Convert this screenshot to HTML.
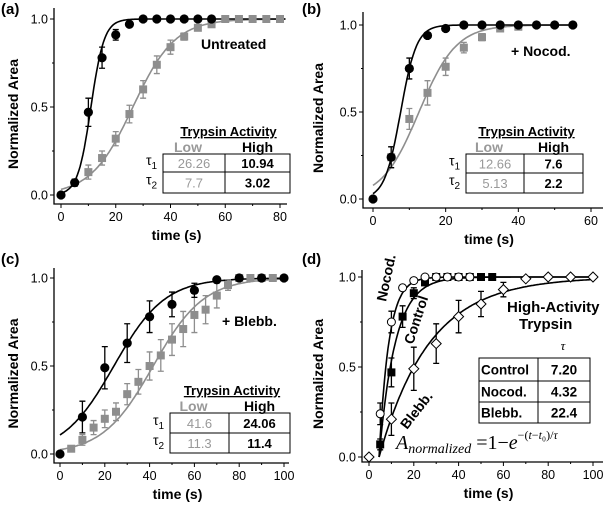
<!DOCTYPE html>
<html><head><meta charset="utf-8"><style>
body{margin:0;background:#fff}
svg{display:block;font-family:"Liberation Sans",Arial,sans-serif}
</style></head><body>
<svg id="fig" width="605" height="506" viewBox="0 0 605 506"></svg>
<script>
// ---- data ----
const aBlackT=[0,5,10,15,20,25,30,35,40,45,50,55];
const aBlackY=[0,0.07,0.47,0.78,0.91,0.97,1,1,1,1,1,1];
const aBlackE=[0,0.02,0.08,0.06,0.03,0.01,0,0,0,0,0,0];
const aGrayT=[10,15,20,25,30,35,40,45,50,55,60,65,70,75,80];
const aGrayY=[0.13,0.21,0.32,0.46,0.60,0.74,0.84,0.90,0.95,0.97,1,1,1,1,1];
const aGrayE=[0.04,0.04,0.04,0.05,0.05,0.05,0.04,0.02,0.01,0.01,0,0,0,0,0];
const aTau=[26.26,7.7,10.94,3.02];
const bBlackT=[0,5,10,15,20,25,30,35,40,45,50,55];
const bBlackY=[0,0.24,0.75,0.94,0.98,1,1,1,1,1,1,1];
const bBlackE=[0,0.06,0.06,0.01,0.01,0,0,0,0,0,0,0];
const bGrayT=[5,10,15,20,25,30,35,40];
const bGrayY=[0.24,0.46,0.61,0.76,0.87,0.93,0.98,0.99];
const bGrayE=[0.06,0.06,0.07,0.05,0.03,0.02,0.01,0.01];
const bTau=[12.66,5.13,7.6,2.2];
const cBlackT=[0,10,20,30,40,50,60,70,80,90,100];
const cBlackY=[0,0.21,0.49,0.63,0.78,0.85,0.93,0.99,1,1,1];
const cBlackE=[0,0.09,0.12,0.11,0.09,0.07,0.04,0.01,0,0,0];
const cGrayT=[5,10,15,20,25,30,35,40,45,50,55,60,65,70,75,80,85,90,95];
const cGrayY=[0.03,0.08,0.15,0.20,0.24,0.34,0.41,0.50,0.56,0.65,0.71,0.79,0.82,0.90,0.96,1,1,1,1];
const cGrayE=[0.01,0.03,0.04,0.05,0.05,0.06,0.07,0.08,0.09,0.09,0.1,0.1,0.08,0.07,0.03,0,0,0,0];
const cTau=[41.6,11.3,24.06,11.4];
const dCtrlT=[5,10,15,20,25,30,35,40,45,50,55];
const dCtrlY=[0.07,0.47,0.78,0.91,0.97,1,1,1,1,1,1];
const dCtrlE=[0.03,0.08,0.06,0.03,0.01,0,0,0,0,0,0];
const dNocT=[5,10,15,20,25,30,35,40,45];
const dNocY=[0.24,0.75,0.94,0.98,1,1,1,1,1];
const dNocE=[0.06,0.06,0.01,0.01,0,0,0,0,0];
const dBlebT=[0,10,20,30,40,50,60,70,80,90,100];
const dBlebY=[0,0.21,0.49,0.63,0.78,0.85,0.93,0.99,1,1,1];
const dBlebE=[0,0.09,0.12,0.11,0.09,0.07,0.04,0.01,0,0,0];
const dTauNames=["Control","Nocod.","Blebb."];
const dTau=[7.20,4.32,22.4];
const dT0=4.5;

const NS="http://www.w3.org/2000/svg";
const fig=document.getElementById('fig');
function mk(tag,attrs,parent){const e=document.createElementNS(NS,tag);for(const k in attrs)e.setAttribute(k,attrs[k]);(parent||fig).appendChild(e);return e;}
const GRAY="#8e8e8e";

function panel(P){
  const g=mk('g',{});
  
  
  const sx=v=>P.x0+(v-P.xmin)*(P.x1-P.x0)/(P.xmax-P.xmin);
  const sy=v=>P.y0+v*(P.y1-P.y0);
  P.sx=sx;P.sy=sy;
  const ax=mk('path',{d:`M${P.L},${P.T}V${P.B}H${P.R}`,stroke:'#000','stroke-width':1.3,fill:'none'},g);
  
  
  for(let v=P.xmin;v<=P.xmax+1e-9;v+=P.xstep/2){
    const major=Math.abs((v/P.xstep)-Math.round(v/P.xstep))<1e-6;
    mk('line',{x1:sx(v),x2:sx(v),y1:P.B,y2:P.B+(major?4:2),stroke:'#000','stroke-width':1},g);
    if(major){const t=mk('text',{x:sx(v),y:P.B+17,'text-anchor':'middle','font-size':12.5},g);t.textContent=v;
      
      }
  }
  for(let v=0;v<=1.0001;v+=0.25){
    const major=Math.abs(v*2-Math.round(v*2))<1e-6;
    mk('line',{x1:P.L,x2:P.L-(major?4:2),y1:sy(v),y2:sy(v),stroke:'#000','stroke-width':1},g);
    if(major){const t=mk('text',{x:P.L-6,y:sy(v)+4.5,'text-anchor':'end','font-size':12.5},g);t.textContent=v.toFixed(1);
      
      }
  }
  const xl=mk('text',{x:(P.L+P.R)/2+6,y:P.B+36,'text-anchor':'middle','font-size':14,'font-weight':'bold'},g);xl.textContent='time (s)';
  
  
  const yc=(P.T+P.B)/2+8;
  const yl=mk('text',{x:P.ylx,y:yc,'text-anchor':'middle','font-size':14,'font-weight':'bold',transform:`rotate(-90 ${P.ylx} ${yc})`},g);yl.textContent='Normalized Area';
  
  
  const pl=mk('text',{x:P.plx,y:P.ply,'font-size':15,'font-weight':'bold'},g);pl.textContent=P.label;
  
  
  P.g=g;
  return P;
}
function curve(P,f,color,name){
  let d='';for(let t=P.cstart;t<=P.cend;t+=0.5){const y=f(t);if(y<0)continue;d+=(d?'L':'M')+P.sx(t).toFixed(1)+','+P.sy(y).toFixed(1);}
  const p=mk('path',{d:d,stroke:color,'stroke-width':1.6,fill:'none'},P.g);
  
  
}
function series(P,T,Y,E,shape,color,name){
  for(let i=0;i<T.length;i++){
    const x=P.sx(T[i]),y=P.sy(Y[i]);
    if(E[i]>0){const eb=mk('path',{d:`M${x},${P.sy(Y[i]-E[i])}V${P.sy(Y[i]+E[i])}M${x-3},${P.sy(Y[i]-E[i])}h6M${x-3},${P.sy(Y[i]+E[i])}h6`,stroke:color,'stroke-width':1.3,fill:'none'},P.g);
      
      }
    let m;
    if(shape==='circle')m=mk('circle',{cx:x,cy:y,r:4.6,fill:color},P.g);
    else if(shape==='ocircle')m=mk('circle',{cx:x,cy:y,r:4,fill:'#fff',stroke:'#000','stroke-width':1},P.g);
    else if(shape==='square')m=mk('rect',{x:x-4,y:y-4,width:8,height:8,fill:color},P.g);
    else m=mk('path',{d:`M${x},${y-5}L${x+5},${y}L${x},${y+5}L${x-5},${y}Z`,fill:'#fff',stroke:'#000','stroke-width':1},P.g);
    
    
  }
}
function tauTable(P,tau,box){
  const g=P.g;const [l,r,m,t1,t2,t3]=box;
  const h=mk('text',{x:(l+r)/2+2,y:t1-18,'text-anchor':'middle','font-size':13,'font-weight':'bold','text-decoration':'underline'},g);h.textContent='Trypsin Activity';
  
  
  const lo=mk('text',{x:(l+m)/2-6,y:t1-2,'text-anchor':'middle','font-size':14,'font-weight':'bold',fill:'#999'},g);lo.textContent='Low';
  
  
  const hi=mk('text',{x:(m+r)/2,y:t1-2,'text-anchor':'middle','font-size':14,'font-weight':'bold'},g);hi.textContent='High';
  
  
  const bx=mk('path',{d:`M${l},${t1}H${r}V${t3}H${l}ZM${m},${t1}V${t3}M${l},${t2}H${r}`,stroke:'#000','stroke-width':1,fill:'none'},g);
  
  
  const rows=[[t1,t2],[t2,t3]];
  rows.forEach((rw,i)=>{
    const cy=(rw[0]+rw[1])/2+5;
    const s=mk('text',{x:l-17,y:cy-3,'font-size':14},g);s.innerHTML='τ<tspan font-size="10" dy="4">'+(i+1)+'</tspan>';
    
    
    const a=mk('text',{x:(l+m)/2,y:cy,'text-anchor':'middle','font-size':13,fill:'#999'},g);a.textContent=tau[i];
    
    
    const b=mk('text',{x:(m+r)/2,y:cy,'text-anchor':'middle','font-size':13,'font-weight':'bold'},g);b.textContent=tau[i+2];
    
    
  });
}
function note(P,txt,x,y,rot,name,fs){
  const t=mk('text',{x:x,y:y,'font-size':fs||14,'font-weight':'bold',transform:rot?`rotate(${rot} ${x} ${y})`:''},P.g);t.textContent=txt;
  
  
}
const logi=(c,w)=>t=>1/(1+Math.exp(-(t-c)/w));

// (a)
const A=panel({name:'panel-a',label:'(a)',plx:1,ply:14,x0:61,x1:280,xmin:0,xmax:80,xstep:20,y0:195,y1:19,L:54,R:287,T:8,B:204,ylx:18,cstart:0,cend:82});
curve(A,logi(aTau[0],aTau[1]),GRAY,'low-fit-curve');
curve(A,logi(aTau[2],aTau[3]*0.8),'#000','high-fit-curve');
series(A,aGrayT,aGrayY,aGrayE,'square',GRAY,'low-activity');
series(A,aBlackT,aBlackY,aBlackE,'circle','#000','high-activity');
tauTable(A,aTau,[163,290,225,154,172,193]);
note(A,'Untreated',201,49,0,'condition-label');
// (b)
const B=panel({name:'panel-b',label:'(b)',plx:302,ply:14,x0:373,x1:591,xmin:0,xmax:60,xstep:20,y0:199,y1:25,L:363,R:603,T:12,B:208,ylx:323,cstart:0,cend:55});
curve(B,logi(bTau[0],bTau[1]),GRAY,'low-fit-curve');
curve(B,logi(bTau[2],bTau[3]),'#000','high-fit-curve');
series(B,bGrayT,bGrayY,bGrayE,'square',GRAY,'low-activity');
series(B,bBlackT,bBlackY,bBlackE,'circle','#000','high-activity');
tauTable(B,bTau,[466,583,524,154,173,193]);
note(B,'+ Nocod.',511,56,0,'condition-label');
// (c)
const C=panel({name:'panel-c',label:'(c)',plx:1,ply:264,x0:60,x1:284,xmin:0,xmax:100,xstep:20,y0:454,y1:278,L:54,R:289,T:268,B:463,ylx:18,cstart:0,cend:100});
curve(C,logi(cTau[0],cTau[1]),GRAY,'low-fit-curve');
curve(C,logi(cTau[2],cTau[3]),'#000','high-fit-curve');
series(C,cGrayT,cGrayY,cGrayE,'square',GRAY,'low-activity');
series(C,cBlackT,cBlackY,cBlackE,'circle','#000','high-activity');
tauTable(C,cTau,[170,290,229,413,433,453]);
note(C,'+ Blebb.',222,326,0,'condition-label');
// (d)
const D=panel({name:'panel-d',label:'(d)',plx:302,ply:264,x0:369,x1:593,xmin:0,xmax:100,xstep:20,y0:457,y1:277,L:362,R:603,T:270,B:462,ylx:323,cstart:0,cend:100});
const expf=tau=>t=>1-Math.exp(-(t-dT0)/tau);
curve(D,expf(dTau[1]),'#000','nocod-fit-curve');
curve(D,expf(dTau[0]),'#000','control-fit-curve');
curve(D,expf(dTau[2]),'#000','blebb-fit-curve');
series(D,dBlebT,dBlebY,dBlebE,'diamond','#000','blebb');
series(D,dCtrlT,dCtrlY,dCtrlE,'square','#000','control');
series(D,dNocT,dNocY,dNocE,'ocircle','#000','nocod');
note(D,'Nocod.',386,302,-78,'nocod-label');
note(D,'Control',413,345,-72,'control-label');
note(D,'Blebb.',407,430,-52,'blebb-label');
note(D,'High-Activity',507,312,0,'annotation-title',15);
note(D,'Trypsin',519,329,0,'annotation-title',15);
(function(){
  const l=479,r=590,m=538,rows=[358,381,402,423];
  const bx=mk('path',{d:`M${l},${rows[0]}H${r}V${rows[3]}H${l}ZM${m},${rows[0]}V${rows[3]}M${l},${rows[1]}H${r}M${l},${rows[2]}H${r}`,stroke:'#000','stroke-width':1,fill:'none'},D.g);
  
  
  const th=mk('text',{x:563,y:350,'text-anchor':'middle','font-size':13,'font-style':'italic','font-family':'Liberation Serif,serif'},D.g);th.textContent='τ';
  
  
  for(let i=0;i<3;i++){
    const cy=(rows[i]+rows[i+1])/2+5;
    const a=mk('text',{x:l+2,y:cy,'font-size':13.5,'font-weight':'bold'},D.g);a.textContent=dTauNames[i];
    
    
    const b=mk('text',{x:(m+r)/2,y:cy,'text-anchor':'middle','font-size':13.5,'font-weight':'bold'},D.g);b.textContent=dTau[i].toFixed(i===2?1:2);
    
    
  }
  const f=mk('text',{x:396,y:449,'font-size':20,'font-family':'Liberation Serif,serif'},D.g);
  f.innerHTML='<tspan font-style="italic">A</tspan><tspan font-style="italic" font-size="14" dy="4">normalized</tspan><tspan dy="-4"> =1−</tspan><tspan font-style="italic">e</tspan><tspan font-size="12" dy="-10">−(<tspan font-style="italic">t</tspan>−<tspan font-style="italic">t</tspan>₀)/<tspan font-style="italic">τ</tspan></tspan>';
  
  
})();
</script>
</body></html>
